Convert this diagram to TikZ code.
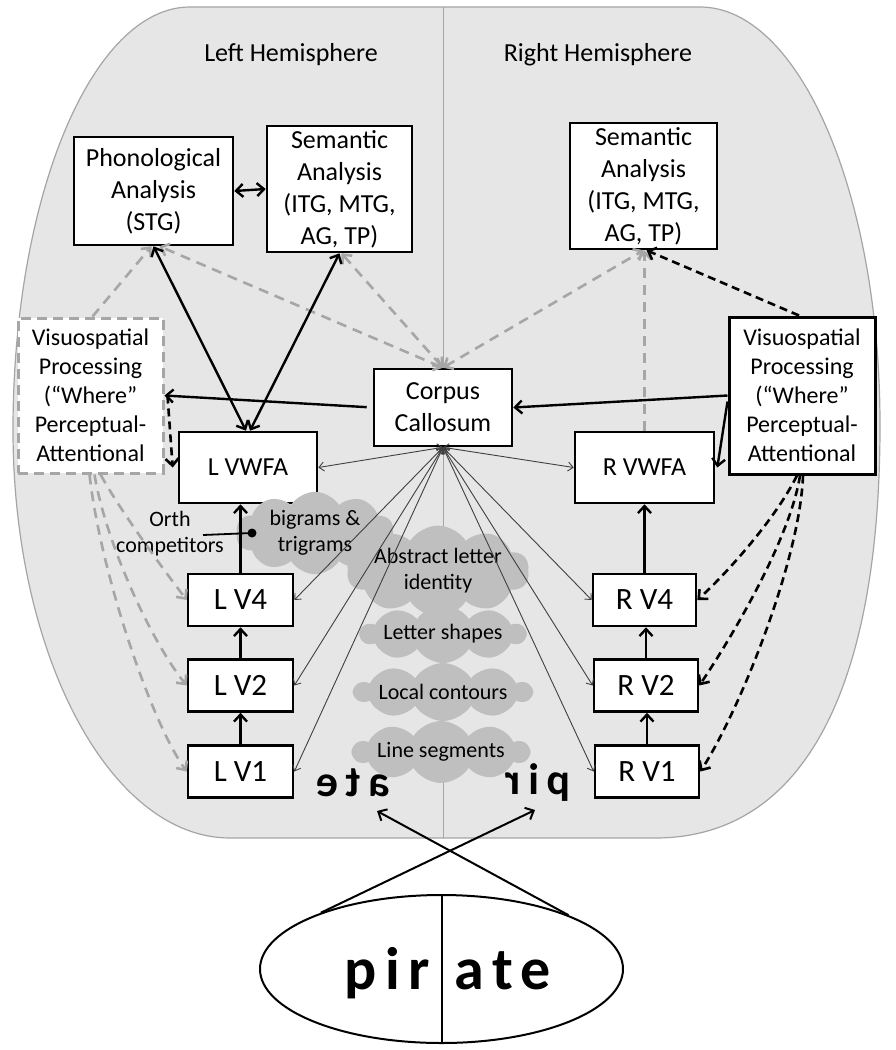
\documentclass[tikz,border=0pt]{standalone}
\usepackage{fontspec}
\setmainfont{Carlito}
\newfontfamily\pirfont[LetterSpace=14]{Carlito}
\newfontfamily\mirfont[LetterSpace=18]{Carlito}
\usetikzlibrary{arrows.meta,shapes.geometric,shapes.symbols,calc}
\definecolor{brainfill}{RGB}{230,230,230}
\definecolor{brainline}{RGB}{165,165,165}
\definecolor{cloudgray}{RGB}{191,191,191}
\definecolor{dashgray}{RGB}{166,166,166}
\definecolor{ccgray}{RGB}{64,64,64}
\tikzset{
  box/.style={draw=black, fill=white, line width=2.6pt, align=center, inner sep=0pt,
    font=\fontsize{26}{32}\selectfont},
  vbox/.style={box, font=\fontsize{31}{36}\selectfont, minimum width=105pt, minimum height=52pt},
  blob/.style={cloud, cloud puffs=10, cloud puff arc=115, cloud ignores aspect, fill=cloudgray,
    draw=none, align=center, inner sep=0pt, font=\fontsize{22}{26}\selectfont},
  solidarrow/.style={line width=2.4pt, -{Straight Barb[length=7pt,width=13pt]}},
  solidboth/.style={line width=2.4pt, {Straight Barb[length=7pt,width=13pt]}-{Straight Barb[length=7pt,width=13pt]}},
  grayone/.style={draw=dashgray, line width=2.6pt, dash pattern=on 10pt off 7pt,
    -{Straight Barb[length=7pt,width=13pt]}},
  grayboth/.style={grayone, {Straight Barb[length=7pt,width=13pt]}-{Straight Barb[length=7pt,width=13pt]}},
  blackdash/.style={line width=2.6pt, dash pattern=on 8pt off 5pt, -{Straight Barb[length=7pt,width=13pt]}},
  ccline/.style={draw=ccgray, line width=0.9pt, {Straight Barb[length=5pt,width=9pt]}-{Straight Barb[length=5pt,width=9pt]}}
}
\begin{document}
\begin{tikzpicture}[x=1pt,y=-1pt]
\useasboundingbox (0,0) rectangle (896,1050);
\fill[white] (0,0) rectangle (896,1050);
% brain outline
\draw[fill=brainfill, draw=brainline, line width=1.2pt]
  (443,7) -- (190,7)
  .. controls (92.2,7) and (13,196.4) .. (13,430)
  .. controls (13,655.3) and (110.2,838) .. (230,838)
  -- (655,838)
  .. controls (801,838) and (880,693.5) .. (880,425)
  .. controls (880,194.1) and (799.4,7) .. (700,7)
  -- cycle;
\coordinate (divtop) at (443,7);
\coordinate (divbot) at (443,838);
\draw[brainline, line width=1pt] (divtop) -- (divbot);

\node[font=\fontsize{26}{30}\selectfont] (lh) at (291,55) {Left Hemisphere};
\node[font=\fontsize{26}{30}\selectfont] (rh) at (598,55) {Right Hemisphere};

% boxes
\node[box, minimum width=159pt, minimum height=108pt] (phon) at (153.5,191) {Phonological\\Analysis\\(STG)};
\node[box, minimum width=145pt, minimum height=126pt] (seml) at (339.5,189) {Semantic\\Analysis\\(ITG, MTG,\\AG, TP)};
\node[box, minimum width=147pt, minimum height=126pt] (semr) at (643.5,186) {Semantic\\Analysis\\(ITG, MTG,\\AG, TP)};
\node[box, draw=dashgray, dash pattern=on 10pt off 6pt, line width=3pt, minimum width=145pt, minimum height=155pt,
  font=\fontsize{24}{29}\selectfont] (visl) at (90.5,395.5) {Visuospatial\\Processing\\(“Where”\\Perceptual-\\Attentional};
\node[box, line width=3pt, minimum width=146pt, minimum height=157pt,
  font=\fontsize{24}{29}\selectfont] (visr) at (802,395.5) {Visuospatial\\Processing\\(“Where”\\Perceptual-\\Attentional};
\node[box, minimum width=138pt, minimum height=77pt] (cc) at (443,407.5) {Corpus\\Callosum};
\node[box, minimum width=138pt, minimum height=71pt] (lvwfa) at (248,467.5) {L VWFA};
\node[box, minimum width=139pt, minimum height=71pt] (rvwfa) at (644.5,467.5) {R VWFA};
\node[vbox] (lv4) at (240.5,600) {L V4};
\node[vbox] (lv2) at (240.5,685.5) {L V2};
\node[vbox] (lv1) at (240.5,771.5) {L V1};
\node[vbox, minimum width=103pt] (rv4) at (644.5,600) {R V4};
\node[vbox, minimum width=104pt] (rv2) at (646,685.5) {R V2};
\node[vbox, minimum width=104pt] (rv1) at (647,771.5) {R V1};

% clouds
\node[blob, minimum width=158pt, minimum height=68pt] (bigr) at (315,533) {bigrams \&\\trigrams};
\node[blob, minimum width=156pt, minimum height=66pt] (abst) at (438,571) {Abstract letter\\identity};
\node[blob, minimum width=154pt, minimum height=58pt] (lshape) at (443,634) {Letter shapes};
\node[blob, minimum width=154pt, minimum height=58pt] (lcont) at (443,692) {Local contours};
\node[blob, minimum width=152pt, minimum height=62pt] (lseg) at (441,752) {Line segments};

% orth competitors
\node[font=\fontsize{22}{26}\selectfont, align=center, inner sep=0pt] (orth) at (170,534) {Orth\\competitors};
\coordinate (inhs) at (203,535);
\coordinate (inhe) at (252,533);

% connectors top
\draw[solidboth] (phon.east) -- (seml.west);
\draw[grayboth] (cc.north) -- ($(phon.south)+(6,0)$);
\draw[grayboth] (cc.north) -- ($(seml.south)+(2,0)$);
\draw[grayboth] (cc.north) -- (semr.south);
\draw[grayone] ($(visl.north)+(2,0)$) -- ($(phon.south)+(-2,0)$);
\draw[grayone] (rvwfa.north) -- (rvwfa.north |- semr.south);
\draw[blackdash] ($(visr.north)+(-3,0)$) -- ($(semr.south)+(3,0)$);
\draw[solidboth] (phon.south) -- ($(lvwfa.north)+(-2,0)$);
\draw[solidboth] (seml.south) -- ($(lvwfa.north)+(2,0)$);
\draw[solidarrow, shorten <=6pt] (cc.west) -- (visl.east);
\draw[solidarrow] (visr.west) -- (cc.east);
\draw[solidarrow] ($(visr.west)+(0,6)$) -- ($(rvwfa.east)+(2,0)$);
\draw[blackdash] ($(visl.east)+(3,0)$) -- ($(lvwfa.west)+(-5,0)$);

% corpus callosum fan
\foreach \t in {lvwfa.east, rvwfa.west, lv4.east, lv2.east, lv1.east, rv4.west, rv2.west, rv1.west}
  \draw[ccline] (cc.south) -- (\t);

% visuospatial to early areas
\draw[grayone] ($(visl.south)+(10,0)$) .. controls (120,510) and (160,565) .. (lv4.west);
\draw[grayone] ($(visl.south)+(4,0)$) .. controls (105,540) and (150,640) .. (lv2.west);
\draw[grayone] ($(visl.south)+(-1,0)$) .. controls (100,570) and (150,720) .. (lv1.west);
\draw[blackdash] ($(visr.south)+(-5,0)$) .. controls (775,520) and (725,575) .. (rv4.east);
\draw[blackdash] ($(visr.south)+(-2,0)$) .. controls (790,540) and (730,640) .. (rv2.east);
\draw[blackdash] ($(visr.south)+(1,0)$) .. controls (800,560) and (740,710) .. (rv1.east);

% feedforward
\draw[solidarrow] (lv1.north) -- (lv2.south);
\draw[solidarrow] (lv2.north) -- (lv4.south);
\draw[solidarrow] (lv4.north) -- (lv4.north |- lvwfa.south);
\draw[solidarrow] (rv1.north) -- (rv1.north |- rv2.south);
\draw[solidarrow] (rv2.north) -- (rv2.north |- rv4.south);
\draw[solidarrow] (rv4.north) -- (rv4.north |- rvwfa.south);

% inhibition
\draw[line width=1.8pt] (inhs) -- (inhe);
\fill (inhe) circle[radius=4.5pt];

% mirrored halves
\node[xscale=-1, anchor=base, inner sep=0pt, font=\mirfont\bfseries\fontsize{44}{44}\selectfont] (ateM) at (353,796) {ate};
\node[xscale=-1, anchor=base, inner sep=0pt, font=\mirfont\bfseries\fontsize{44}{44}\selectfont] (pirM) at (538,794) {pir};
\coordinate (tipL) at (377,811);
\coordinate (tipR) at (535,810);

% eye / word
\node[ellipse, draw, line width=2pt, minimum width=363pt, minimum height=148pt, inner sep=0pt] (eye) at (441.5,969) {};
\draw[line width=2pt] (eye.north) -- (eye.south);
\node[anchor=base, inner sep=0pt, font=\pirfont\bfseries\fontsize{60}{64}\selectfont] (pir) at (387,989) {pir};
\node[anchor=base, inner sep=0pt, font=\pirfont\bfseries\fontsize{60}{64}\selectfont] (ate) at (503,989) {ate};
\draw[line width=2pt, -{Straight Barb[length=7pt,width=13pt]}] (eye.155) -- (tipR);
\draw[line width=2pt, -{Straight Barb[length=7pt,width=13pt]}] (eye.23) -- (tipL);
\end{tikzpicture}
\end{document}
